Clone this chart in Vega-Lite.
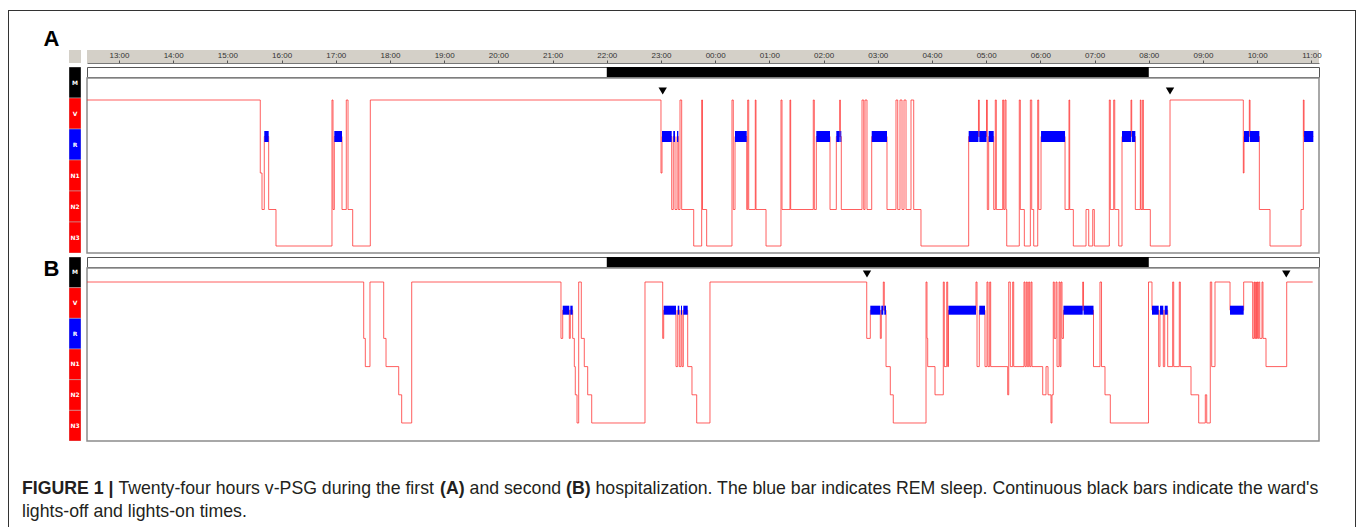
{
 "$schema": "https://vega.github.io/schema/vega-lite/v6.json",
 "background": "white",
 "padding": {"left": 8, "top": 10, "right": 1, "bottom": 0},
 "spacing": 0,
 "config": {"view": {"stroke": null}},
 "vconcat": [
  {"width": 1348, "height": 1, "view": {"fill": "#333333", "stroke": null}, "data": {"values": []}, "mark": "point"},
  {"spacing": 8, "hconcat": [
   {"width": 1, "height": 516, "view": {"fill": "#333333", "stroke": null}, "data": {"values": []}, "mark": "point"},
   {"spacing": 4, "vconcat": [
    {"spacing": 5, "hconcat": [
     {"spacing": 0, "bounds": "flush", "vconcat": [
      {"width": 47, "height": 39, "data": {"values": [{}]}, "mark": {"type": "text", "text": "A", "font": "Liberation Sans", "fontWeight": "bold", "fontSize": 22, "dx": 11, "dy": 8, "color": "#000000", "clip": true}},
      {"width": 47, "height": 207, "data": {"values": []}, "mark": "point"},
      {"width": 47, "height": 22, "data": {"values": [{}]}, "mark": {"type": "text", "text": "B", "font": "Liberation Sans", "fontWeight": "bold", "fontSize": 22, "dx": 11, "dy": 1, "color": "#000000", "clip": true}}
     ]},
     {"spacing": 0, "bounds": "flush", "vconcat": [
      {"width": 12, "height": 39, "data": {"values": []}, "mark": "point"},
      {"width": 12, "height": 13, "view": {"fill": "#d4d0c8", "stroke": null}, "data": {"values": []}, "mark": "point"},
      {"width": 12, "height": 4, "data": {"values": []}, "mark": "point"},
      {"width": 12, "height": 186,
       "data": {"values": [{"s":"M"},{"s":"V"},{"s":"R"},{"s":"N1"},{"s":"N2"},{"s":"N3"}]},
       "encoding": {"y": {"field": "s", "type": "nominal", "scale": {"type": "band", "domain": ["M","V","R","N1","N2","N3"], "paddingInner": 0, "paddingOuter": 0}, "axis": null}},
       "layer": [
        {"mark": {"type": "rect", "stroke": "#bbbbbb", "strokeWidth": 0.5, "clip": true},
         "encoding": {"color": {"field": "s", "type": "nominal", "scale": {"domain": ["M","V","R","N1","N2","N3"], "range": ["#000000","#ff0000","#0000ff","#ff0000","#ff0000","#ff0000"]}, "legend": null}}},
        {"mark": {"type": "text", "color": "white", "fontSize": 6, "fontWeight": "bold", "font": "DejaVu Sans", "clip": true}, "encoding": {"text": {"field": "s"}}}
       ]},
      {"width": 12, "height": 4, "data": {"values": []}, "mark": "point"},
      {"width": 12, "height": 184,
       "data": {"values": [{"s":"M"},{"s":"V"},{"s":"R"},{"s":"N1"},{"s":"N2"},{"s":"N3"}]},
       "encoding": {"y": {"field": "s", "type": "nominal", "scale": {"type": "band", "domain": ["M","V","R","N1","N2","N3"], "paddingInner": 0, "paddingOuter": 0}, "axis": null}},
       "layer": [
        {"mark": {"type": "rect", "stroke": "#bbbbbb", "strokeWidth": 0.5, "clip": true},
         "encoding": {"color": {"field": "s", "type": "nominal", "scale": {"domain": ["M","V","R","N1","N2","N3"], "range": ["#000000","#ff0000","#0000ff","#ff0000","#ff0000","#ff0000"]}, "legend": null}}},
        {"mark": {"type": "text", "color": "white", "fontSize": 6, "fontWeight": "bold", "font": "DejaVu Sans", "clip": true}, "encoding": {"text": {"field": "s"}}}
       ]}
     ]},
     {"spacing": 0, "bounds": "flush", "vconcat": [
      {"width": 1232, "height": 39, "data": {"values": []}, "mark": "point"},
      {"width": 1232, "height": 13, "view": {"fill": "#d4d0c8", "stroke": null},
       "data": {"values": [{"h":13},{"h":14},{"h":15},{"h":16},{"h":17},{"h":18},{"h":19},{"h":20},{"h":21},{"h":22},{"h":23},{"h":24},{"h":25},{"h":26},{"h":27},{"h":28},{"h":29},{"h":30},{"h":31},{"h":32},{"h":33},{"h":34},{"h":35}]},
       "mark": {"type": "point", "opacity": 0},
       "encoding": {"x": {"field": "h", "type": "quantitative", "scale": {"domain": [12.41, 35.1406], "nice": false, "zero": false},
         "axis": {"orient": "top", "offset": -13, "values": [13,14,15,16,17,18,19,20,21,22,23,24,25,26,27,28,29,30,31,32,33,34,35],
           "labelExpr": "(datum.value % 24 < 10 ? '0' : '') + (datum.value % 24) + ':00'",
           "tickSize": 3, "tickColor": "#555555", "labelPadding": 1, "labelFontSize": 8, "labelFont": "Liberation Sans", "labelColor": "#333333",
           "labelFlush": false, "labelOverlap": false, "domain": true, "domainColor": "#777777", "grid": false, "title": null}}}},
      {"width": 1232, "height": 4, "data": {"values": []}, "mark": "point"},
      {"width": 1232, "height": 10, "view": {"stroke": "#555555", "fill": "white"},
       "data": {"values": [{"off": 22, "on": 32}]},
       "mark": {"type": "rect", "color": "black", "clip": true},
       "encoding": {"x": {"field": "off", "type": "quantitative", "scale": {"domain": [12.41, 35.1406], "nice": false, "zero": false}, "axis": null}, "x2": {"field": "on"}}},
      {"width": 1232, "height": 1, "data": {"values": []}, "mark": "point"},
      {"width": 1232, "height": 175, "view": {"stroke": "#8c8c8c", "strokeWidth": 1.5},
       "data": {"values": [
        {"t":12.41,"s":"V"},{"t":15.607,"s":"N1"},{"t":15.639,"s":"N2"},{"t":15.681,"s":"R"},{"t":15.762,"s":"N2"},{"t":15.897,"s":"N3"},
        {"t":16.93,"s":"V"},{"t":16.949,"s":"N2"},{"t":16.973,"s":"R"},{"t":17.115,"s":"N2"},{"t":17.194,"s":"V"},{"t":17.226,"s":"N2"},
        {"t":17.312,"s":"N3"},{"t":17.637,"s":"V"},{"t":23.0,"s":"N1"},{"t":23.019,"s":"R"},{"t":23.198,"s":"N2"},{"t":23.227,"s":"R"},
        {"t":23.259,"s":"N2"},{"t":23.296,"s":"R"},{"t":23.32,"s":"N2"},{"t":23.351,"s":"V"},{"t":23.382,"s":"N2"},{"t":23.604,"s":"N3"},
        {"t":23.751,"s":"V"},{"t":23.766,"s":"N2"},{"t":23.843,"s":"N3"},{"t":24.31,"s":"V"},{"t":24.334,"s":"N2"},{"t":24.366,"s":"R"},
        {"t":24.582,"s":"N2"},{"t":24.6,"s":"V"},{"t":24.619,"s":"N2"},{"t":24.74,"s":"V"},{"t":24.753,"s":"N2"},{"t":24.938,"s":"N3"},
        {"t":25.214,"s":"V"},{"t":25.233,"s":"N2"},{"t":25.38,"s":"V"},{"t":25.393,"s":"N2"},{"t":25.81,"s":"V"},{"t":25.829,"s":"N2"},
        {"t":25.866,"s":"R"},{"t":26.119,"s":"N2"},{"t":26.235,"s":"R"},{"t":26.298,"s":"V"},{"t":26.309,"s":"R"},{"t":26.327,"s":"N2"},
        {"t":26.709,"s":"V"},{"t":26.741,"s":"N2"},{"t":26.765,"s":"V"},{"t":26.801,"s":"N2"},{"t":26.888,"s":"R"},{"t":27.17,"s":"N2"},
        {"t":27.336,"s":"V"},{"t":27.368,"s":"N2"},{"t":27.41,"s":"V"},{"t":27.447,"s":"N2"},{"t":27.484,"s":"V"},{"t":27.521,"s":"N2"},
        {"t":27.613,"s":"V"},{"t":27.663,"s":"N2"},{"t":27.797,"s":"N3"},{"t":28.677,"s":"R"},{"t":28.858,"s":"V"},{"t":28.873,"s":"R"},
        {"t":29.006,"s":"V"},{"t":29.021,"s":"N2"},{"t":29.046,"s":"R"},{"t":29.139,"s":"N2"},{"t":29.168,"s":"V"},{"t":29.187,"s":"N2"},
        {"t":29.305,"s":"V"},{"t":29.323,"s":"N2"},{"t":29.347,"s":"V"},{"t":29.366,"s":"N2"},{"t":29.379,"s":"N3"},{"t":29.611,"s":"V"},
        {"t":29.63,"s":"N2"},{"t":29.704,"s":"N3"},{"t":29.815,"s":"V"},{"t":29.84,"s":"N2"},{"t":29.877,"s":"N3"},{"t":29.951,"s":"V"},
        {"t":29.969,"s":"N2"},{"t":30.012,"s":"R"},{"t":30.455,"s":"N2"},{"t":30.528,"s":"V"},{"t":30.541,"s":"N2"},{"t":30.608,"s":"N3"},
        {"t":30.842,"s":"N2"},{"t":30.892,"s":"N3"},{"t":30.966,"s":"N2"},{"t":30.995,"s":"N3"},{"t":31.272,"s":"V"},{"t":31.29,"s":"N2"},
        {"t":31.353,"s":"V"},{"t":31.372,"s":"N2"},{"t":31.446,"s":"N3"},{"t":31.506,"s":"R"},{"t":31.672,"s":"V"},{"t":31.685,"s":"R"},
        {"t":31.752,"s":"N2"},{"t":31.844,"s":"V"},{"t":31.857,"s":"N2"},{"t":31.888,"s":"V"},{"t":31.899,"s":"N2"},{"t":32.028,"s":"N3"},
        {"t":32.392,"s":"V"},{"t":33.744,"s":"N1"},{"t":33.757,"s":"R"},{"t":33.855,"s":"V"},{"t":33.868,"s":"R"},{"t":34.04,"s":"N2"},
        {"t":34.237,"s":"N3"},{"t":34.809,"s":"N2"},{"t":34.852,"s":"V"},{"t":34.865,"s":"R"},{"t":35.036,"s":"R"}
       ]},
       "encoding": {
        "x": {"field": "t", "type": "quantitative", "scale": {"domain": [12.41, 35.1406], "nice": false, "zero": false}, "axis": null},
        "y": {"field": "s", "type": "ordinal", "scale": {"type": "point", "domain": ["V","R","N1","N2","N3"], "padding": 0.39726, "align": 0.75862}, "axis": null}
       },
       "layer": [
        {"mark": {"type": "line", "interpolate": "step-after", "color": "#ff2a2a", "strokeWidth": 1, "opacity": 0.75, "clip": true},
         "encoding": {"order": {"field": "t", "type": "quantitative"}}},
        {"transform": [{"window": [{"op": "lead", "field": "t", "as": "t2"}], "sort": [{"field": "t"}]}, {"filter": "datum.s === 'R' && datum.t2 != null"}],
         "mark": {"type": "rule", "color": "#0000ff", "strokeWidth": 11, "strokeCap": "butt", "clip": true},
         "encoding": {"x2": {"field": "t2"}}},
        {"data": {"values": [{"t": 23.032}, {"t": 32.392}]},
         "mark": {"type": "point", "shape": "triangle-down", "filled": true, "color": "black", "size": 70, "opacity": 1, "yOffset": -9, "clip": true},
         "encoding": {"y": {"datum": "V", "type": "ordinal"}}}
       ]},
      {"width": 1232, "height": 4, "data": {"values": []}, "mark": "point"},
      {"width": 1232, "height": 10, "view": {"stroke": "#555555", "fill": "white"},
       "data": {"values": [{"off": 22, "on": 32}]},
       "mark": {"type": "rect", "color": "black", "clip": true},
       "encoding": {"x": {"field": "off", "type": "quantitative", "scale": {"domain": [12.41, 35.1406], "nice": false, "zero": false}, "axis": null}, "x2": {"field": "on"}}},
      {"width": 1232, "height": 1, "data": {"values": []}, "mark": "point"},
      {"width": 1232, "height": 173, "view": {"stroke": "#8c8c8c", "strokeWidth": 1.5},
       "data": {"values": [
        {"t":12.41,"s":"V"},{"t":17.515,"s":"N1"},{"t":17.545,"s":"N2"},{"t":17.631,"s":"V"},{"t":17.884,"s":"N1"},{"t":17.927,"s":"N2"},
        {"t":18.161,"s":"N3"},{"t":18.216,"s":"N4"},{"t":18.401,"s":"V"},{"t":21.155,"s":"N1"},{"t":21.187,"s":"R"},{"t":21.309,"s":"N1"},
        {"t":21.327,"s":"R"},{"t":21.371,"s":"N1"},{"t":21.401,"s":"N2"},{"t":21.419,"s":"N3"},{"t":21.451,"s":"N4"},{"t":21.482,"s":"V"},
        {"t":21.53,"s":"N1"},{"t":21.585,"s":"N2"},{"t":21.648,"s":"N3"},{"t":21.722,"s":"N4"},{"t":22.705,"s":"V"},{"t":23.032,"s":"N1"},
        {"t":23.05,"s":"R"},{"t":23.277,"s":"N2"},{"t":23.309,"s":"R"},{"t":23.338,"s":"N2"},{"t":23.369,"s":"R"},{"t":23.388,"s":"N2"},
        {"t":23.412,"s":"R"},{"t":23.493,"s":"N2"},{"t":23.572,"s":"N3"},{"t":23.659,"s":"N4"},{"t":23.904,"s":"V"},{"t":26.796,"s":"N1"},
        {"t":26.862,"s":"R"},{"t":27.047,"s":"N1"},{"t":27.065,"s":"R"},{"t":27.102,"s":"V"},{"t":27.12,"s":"R"},{"t":27.152,"s":"N2"},
        {"t":27.231,"s":"N3"},{"t":27.286,"s":"N4"},{"t":27.89,"s":"V"},{"t":27.908,"s":"N1"},{"t":27.921,"s":"N2"},{"t":28.056,"s":"N3"},
        {"t":28.209,"s":"V"},{"t":28.227,"s":"N2"},{"t":28.272,"s":"V"},{"t":28.29,"s":"N2"},{"t":28.305,"s":"R"},{"t":28.812,"s":"V"},
        {"t":28.831,"s":"N2"},{"t":28.873,"s":"R"},{"t":28.978,"s":"N2"},{"t":29.015,"s":"V"},{"t":29.034,"s":"N2"},{"t":29.065,"s":"V"},
        {"t":29.083,"s":"N2"},{"t":29.397,"s":"N3"},{"t":29.416,"s":"V"},{"t":29.445,"s":"N2"},{"t":29.489,"s":"V"},{"t":29.508,"s":"N2"},
        {"t":29.698,"s":"V"},{"t":29.716,"s":"N2"},{"t":29.74,"s":"V"},{"t":29.759,"s":"N2"},{"t":29.784,"s":"V"},{"t":29.803,"s":"N2"},
        {"t":29.827,"s":"V"},{"t":29.845,"s":"N2"},{"t":30.043,"s":"N3"},{"t":30.104,"s":"N2"},{"t":30.141,"s":"N3"},{"t":30.196,"s":"N4"},
        {"t":30.214,"s":"N3"},{"t":30.238,"s":"V"},{"t":30.257,"s":"N1"},{"t":30.288,"s":"V"},{"t":30.307,"s":"N2"},{"t":30.344,"s":"V"},
        {"t":30.362,"s":"N2"},{"t":30.38,"s":"V"},{"t":30.399,"s":"N1"},{"t":30.426,"s":"R"},{"t":30.781,"s":"V"},{"t":30.796,"s":"R"},
        {"t":30.98,"s":"N2"},{"t":31.1,"s":"V"},{"t":31.128,"s":"N2"},{"t":31.192,"s":"N3"},{"t":31.29,"s":"N4"},{"t":31.995,"s":"V"},
        {"t":32.059,"s":"R"},{"t":32.183,"s":"N2"},{"t":32.207,"s":"R"},{"t":32.268,"s":"N2"},{"t":32.294,"s":"R"},{"t":32.349,"s":"N2"},
        {"t":32.441,"s":"V"},{"t":32.46,"s":"N2"},{"t":32.563,"s":"V"},{"t":32.582,"s":"N2"},{"t":32.779,"s":"N3"},{"t":32.921,"s":"N4"},
        {"t":33.043,"s":"N3"},{"t":33.069,"s":"N4"},{"t":33.135,"s":"V"},{"t":33.161,"s":"N2"},{"t":33.222,"s":"V"},{"t":33.499,"s":"R"},
        {"t":33.751,"s":"V"},{"t":33.917,"s":"N1"},{"t":33.941,"s":"V"},{"t":33.954,"s":"N1"},{"t":33.973,"s":"V"},{"t":33.984,"s":"N1"},
        {"t":33.997,"s":"V"},{"t":34.01,"s":"N1"},{"t":34.028,"s":"V"},{"t":34.047,"s":"N1"},{"t":34.089,"s":"V"},{"t":34.107,"s":"N1"},
        {"t":34.163,"s":"N2"},{"t":34.545,"s":"V"},{"t":35.024,"s":"V"}
       ]},
       "encoding": {
        "x": {"field": "t", "type": "quantitative", "scale": {"domain": [12.41, 35.1406], "nice": false, "zero": false}, "axis": null},
        "y": {"field": "s", "type": "ordinal", "scale": {"type": "point", "domain": ["V","R","N1","N2","N3","N4"], "padding": 0.5674, "align": 0.4375}, "axis": null}
       },
       "layer": [
        {"mark": {"type": "line", "interpolate": "step-after", "color": "#ff2a2a", "strokeWidth": 1, "opacity": 0.75, "clip": true},
         "encoding": {"order": {"field": "t", "type": "quantitative"}}},
        {"transform": [{"window": [{"op": "lead", "field": "t", "as": "t2"}], "sort": [{"field": "t"}]}, {"filter": "datum.s === 'R' && datum.t2 != null"}],
         "mark": {"type": "rule", "color": "#0000ff", "strokeWidth": 9, "strokeCap": "butt", "clip": true},
         "encoding": {"x2": {"field": "t2"}}},
        {"data": {"values": [{"t": 26.801}, {"t": 34.537}]},
         "mark": {"type": "point", "shape": "triangle-down", "filled": true, "color": "black", "size": 70, "opacity": 1, "yOffset": -8, "clip": true},
         "encoding": {"y": {"datum": "V", "type": "ordinal"}}}
       ]}
     ]}
    ]},
    {"width": 1330, "height": 82, "data": {"values": [{}]},
     "layer": [
      {"mark": {"type": "text", "text": "FIGURE 1 |", "align": "left", "baseline": "alphabetic", "dx": -660, "dy": 7, "fontSize": 17.7, "font": "Liberation Sans", "fontWeight": "bold", "color": "#231f20"}},
      {"mark": {"type": "text", "text": "Twenty-four hours v-PSG during the first", "align": "left", "baseline": "alphabetic", "dx": -563.6, "dy": 7, "fontSize": 17.7, "font": "Liberation Sans", "color": "#231f20"}},
      {"mark": {"type": "text", "text": "(A)", "align": "left", "baseline": "alphabetic", "dx": -241.9, "dy": 7, "fontSize": 17.7, "font": "Liberation Sans", "fontWeight": "bold", "color": "#231f20"}},
      {"mark": {"type": "text", "text": "and second", "align": "left", "baseline": "alphabetic", "dx": -212.4, "dy": 7, "fontSize": 17.7, "font": "Liberation Sans", "color": "#231f20"}},
      {"mark": {"type": "text", "text": "(B)", "align": "left", "baseline": "alphabetic", "dx": -116, "dy": 7, "fontSize": 17.7, "font": "Liberation Sans", "fontWeight": "bold", "color": "#231f20"}},
      {"mark": {"type": "text", "text": "hospitalization. The blue bar indicates REM sleep. Continuous black bars indicate the ward's", "align": "left", "baseline": "alphabetic", "dx": -86.5, "dy": 7, "fontSize": 17.7, "font": "Liberation Sans", "color": "#231f20"}},
      {"mark": {"type": "text", "text": "lights-off and lights-on times.", "align": "left", "baseline": "alphabetic", "dx": -660, "dy": 30, "fontSize": 17.7, "font": "Liberation Sans", "color": "#231f20"}}
     ]}
   ]},
   {"width": 1, "height": 516, "view": {"fill": "#333333", "stroke": null}, "data": {"values": []}, "mark": "point"}
  ]}
 ]
}
